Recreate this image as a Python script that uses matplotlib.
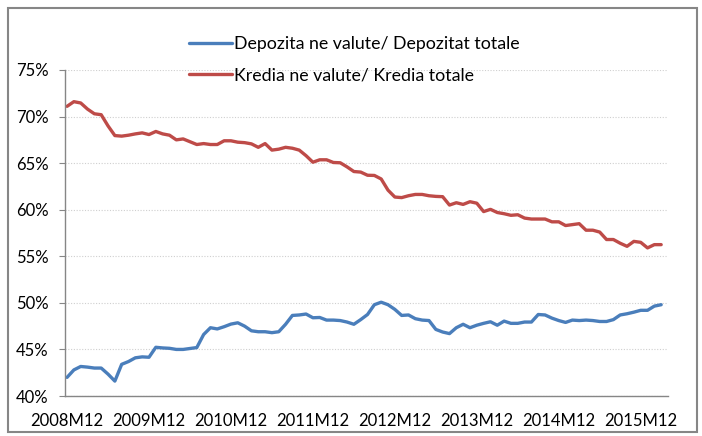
import matplotlib
matplotlib.use("Agg")
import matplotlib.pyplot as plt
from matplotlib.patches import Rectangle
import numpy as np

plt.rcParams['font.family'] = ['Lato', 'DejaVu Sans']

# Monthly values, 2008M12 .. 2016M03
depozita = [42.0, 42.8, 43.17, 43.1, 43.0, 43.0, 42.35, 41.6, 43.4, 43.7,
            44.1, 44.2, 44.16, 45.23, 45.16, 45.12, 45.0, 45.0, 45.1, 45.2,
            46.6, 47.33, 47.2, 47.44, 47.72, 47.86, 47.5, 47.0, 46.9, 46.9,
            46.8, 46.9, 47.7, 48.65, 48.7, 48.8, 48.4, 48.43, 48.15, 48.15,
            48.1, 47.94, 47.7, 48.2, 48.75, 49.8, 50.07, 49.8, 49.3, 48.65,
            48.7, 48.3, 48.15, 48.1, 47.15, 46.87, 46.7, 47.33, 47.7, 47.33,
            47.6, 47.8, 47.97, 47.6, 48.04, 47.8, 47.8, 47.94, 47.94, 48.75,
            48.7, 48.36, 48.1, 47.9, 48.15, 48.1, 48.15, 48.1, 48.0, 48.0,
            48.2, 48.7, 48.83, 49.0, 49.2, 49.2, 49.65, 49.8]

kredia = [71.1, 71.6, 71.46, 70.8, 70.3, 70.2, 69.0, 67.96, 67.9, 68.0,
          68.14, 68.25, 68.07, 68.4, 68.14, 68.0, 67.5, 67.6, 67.3, 67.0,
          67.1, 67.0, 67.0, 67.4, 67.4, 67.25, 67.2, 67.07, 66.7, 67.1,
          66.4, 66.5, 66.7, 66.6, 66.4, 65.8, 65.1, 65.36, 65.36, 65.07,
          65.04, 64.6, 64.1, 64.04, 63.7, 63.68, 63.3, 62.1, 61.36, 61.3,
          61.5, 61.64, 61.64, 61.5, 61.43, 61.4, 60.5, 60.75, 60.57, 60.86,
          60.7, 59.8, 60.04, 59.7, 59.57, 59.4, 59.46, 59.1, 59.0, 59.0,
          59.0, 58.7, 58.7, 58.3, 58.4, 58.5, 57.8, 57.8, 57.6, 56.8,
          56.8, 56.4, 56.07, 56.6, 56.5, 55.9, 56.25, 56.25]

tick_labels = ["2008M12", "2009M12", "2010M12", "2011M12",
               "2012M12", "2013M12", "2014M12", "2015M12"]
y_ticks = [40, 45, 50, 55, 60, 65, 70, 75]

label_dep = "Depozita ne valute/ Depozitat totale"
label_kre = "Kredia ne valute/ Kredia totale"

W, H = 702, 436
fig = plt.figure(figsize=(W / 100, H / 100), dpi=100)
ax = fig.add_axes([65 / W, 1 - 396 / H, (668 - 65) / W, (396 - 70) / H])

x = np.arange(len(depozita))
l1, = ax.plot(x, depozita, color='#4A7EBB', lw=2.4, solid_capstyle='round',
              solid_joinstyle='round', label=label_dep)
l2, = ax.plot(np.arange(len(kredia)), kredia, color='#BE4B48', lw=2.4,
              solid_capstyle='round', solid_joinstyle='round', label=label_kre)

ax.set_xlim(-0.3, 88)
ax.set_ylim(40, 75)
ax.set_yticks(y_ticks)
ax.set_yticklabels([f"{v}%" for v in y_ticks])
ax.set_xticks(np.arange(len(tick_labels)) * 12)
ax.set_xticklabels(tick_labels)

ax.grid(axis='y', linestyle=(0, (1, 1.5)), color='#CFCFCF', lw=0.8)
ax.set_axisbelow(True)
for s in ['top', 'right']:
    ax.spines[s].set_visible(False)
for s in ['left', 'bottom']:
    ax.spines[s].set_color('#868686')
    ax.spines[s].set_linewidth(1.0)
ax.tick_params(axis='y', length=4, color='#868686', labelsize=12, pad=8,
               labelcolor='#000000')
ax.tick_params(axis='x', length=0, labelsize=12, pad=12, labelcolor='#000000')

fig.legend(handles=[l1, l2], loc='upper left',
           bbox_to_anchor=(180 / W, 1 - 27 / H), frameon=False,
           fontsize=12.8, handlelength=2.4, handletextpad=0.15,
           labelspacing=0.85, borderpad=0)

fig.patches.append(Rectangle((8 / W, 4 / H), (697 - 8) / W, (428 - 4) / H,
                             transform=fig.transFigure, fill=False,
                             edgecolor='#868686', lw=1.5))

fig.savefig("out.png", dpi=100)
